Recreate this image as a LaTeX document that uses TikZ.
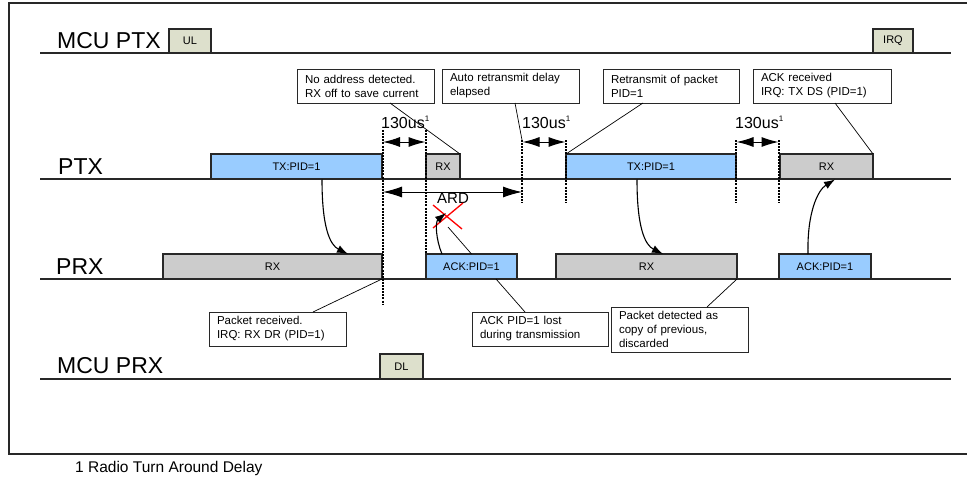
\documentclass[tikz,border=0pt]{standalone}
\usepackage{fontspec}
\setmainfont{Liberation Sans}
\usetikzlibrary{arrows.meta}
\definecolor{pblue}{RGB}{153,204,255}
\definecolor{pgray}{RGB}{204,204,204}
\definecolor{polive}{RGB}{221,224,204}
\definecolor{edgec}{RGB}{40,40,40}
\begin{document}
\begin{tikzpicture}[x=1pt,y=-1pt,
  lane/.style={line width=1.2pt, draw=edgec},
  lanelbl/.style={anchor=base west, inner sep=0, font=\fontsize{23}{23}\selectfont},
  pk/.style={draw=edgec, line width=1.3pt, inner sep=0, outer sep=0, font=\fontsize{11}{13}\selectfont},
  txb/.style={pk, fill=pblue},
  rxb/.style={pk, fill=pgray},
  mcub/.style={pk, fill=polive},
  note/.style={draw=edgec, line width=0.9pt, fill=white, inner xsep=8pt, inner ysep=0, outer sep=0, align=left, font=\fontsize{11.5}{14}\selectfont, anchor=north west},
  lead/.style={line width=0.7pt},
  tick/.style={line width=2pt, dash pattern=on 2pt off 1.1pt},
  dur/.style={line width=1pt, {Latex[length=17pt,width=10pt]}-{Latex[length=17pt,width=10pt]}},
  ardarr/.style={line width=1pt, {Latex[length=19pt,width=11pt]}-{Latex[length=19pt,width=11pt]}},
  flow/.style={line width=1.1pt, -{Latex[length=11pt,width=8pt]}},
  lbl/.style={inner sep=0, anchor=base west, font=\fontsize{16}{16}\selectfont},
]
\useasboundingbox (0,0) rectangle (967,479);
\fill[white] (0,0) rectangle (967,479);
% frame
\draw[line width=1.2pt, edgec] (975,3) -- (9,3) -- (9,454) -- (975,454);

% lanes
\draw[lane] (40,53) -- (951,53);
\draw[lane] (40,179) -- (951,179);
\draw[lane] (40,279) -- (951,279);
\draw[lane] (40,379) -- (951,379);
\node[lanelbl] (lmcuptx) at (57,48) {MCU PTX};
\node[lanelbl] (lptx) at (58,174) {PTX};
\node[lanelbl] (lprx) at (56,274) {PRX};
\node[lanelbl] (lmcuprx) at (57,373) {MCU PRX};

% MCU boxes
\node[mcub, minimum width=42pt, minimum height=24pt] (ul) at (190,41) {UL};
\node[mcub, minimum width=40pt, minimum height=24pt] (irq) at (893,41) {IRQ};
\node[mcub, minimum width=43pt, minimum height=25pt] (dl) at (401.5,366.5) {DL};

% PTX boxes
\node[txb, minimum width=171pt, minimum height=25pt] (tx1) at (296.5,166.5) {TX:PID=1};
\node[rxb, minimum width=34pt, minimum height=25pt] (rx1) at (443,166.5) {RX};
\node[txb, minimum width=170pt, minimum height=25pt] (tx2) at (651,166.5) {TX:PID=1};
\node[rxb, minimum width=93pt, minimum height=25pt] (rx3) at (826.5,166.5) {RX};

% PRX boxes
\node[rxb, minimum width=219pt, minimum height=25pt] (prx1) at (272.5,266.5) {RX};
\node[txb, minimum width=91pt, minimum height=25pt] (ack1) at (471.5,266.5) {ACK:PID=1};
\node[rxb, minimum width=181pt, minimum height=25pt] (prx2) at (646.5,266.5) {RX};
\node[txb, minimum width=92pt, minimum height=25pt] (ack2) at (825,266.5) {ACK:PID=1};

% dotted markers
\coordinate (d1t) at (382.5,130); \coordinate (d1b) at (382.5,305);
\coordinate (d2t) at (426,130);   \coordinate (d2b) at (426,254);
\coordinate (d3t) at (522,140);   \coordinate (d3b) at (522,203);
\coordinate (d4t) at (566,140);   \coordinate (d4b) at (566,203);
\coordinate (d5t) at (736,140);   \coordinate (d5b) at (736,203);
\coordinate (d6t) at (779,140);   \coordinate (d6b) at (779,203);
\foreach \i in {1,...,6} {\draw[tick] (d\i t) -- (d\i b);}

% 130us durations
\coordinate (a1l) at (383,142); \coordinate (a1r) at (425.5,142);
\coordinate (a2l) at (522.5,142); \coordinate (a2r) at (565.5,142);
\coordinate (a3l) at (736.5,142); \coordinate (a3r) at (778.5,142);
\draw[dur] (a1l) -- (a1r);
\draw[dur] (a2l) -- (a2r);
\draw[dur] (a3l) -- (a3r);
\node[lbl] (t1) at (381,128) {130us\raisebox{7pt}{\fontsize{8}{8}\selectfont 1}};
\node[lbl] (t2) at (522,128) {130us\raisebox{7pt}{\fontsize{8}{8}\selectfont 1}};
\node[lbl] (t3) at (735,128) {130us\raisebox{7pt}{\fontsize{8}{8}\selectfont 1}};

% ARD
\coordinate (ardl) at (383,192); \coordinate (ardr) at (522,192);
\draw[ardarr] (ardl) -- (ardr);
\node[inner sep=0, font=\fontsize{15}{15}\selectfont] (ard) at (453,198) {ARD};

% red cross
\draw[red, line width=1.3pt] (433,205) -- (462,229) (433,228) -- (463,203);
\coordinate (xmark) at (448,227);
\draw[lead] (xmark) -- (ack1.north);

% flow arrows
\coordinate (f1s) at (322,179.5); \coordinate (f1e) at (348,254);
\draw[flow] (f1s) .. controls (322,228) and (330,245) .. (f1e);
\coordinate (f2s) at (442,254); \coordinate (f2e) at (446,213);
\draw[flow] (f2s) .. controls (436,240) and (435,222) .. (f2e);
\coordinate (f3s) at (637,179.5); \coordinate (f3e) at (663,254);
\draw[flow] (f3s) .. controls (637,228) and (645,245) .. (f3e);
\coordinate (f4s) at (808,254); \coordinate (f4e) at (835,179.5);
\draw[flow] (f4s) .. controls (807,212) and (818,190) .. (f4e);

% notes
\node[note, text width=121pt, minimum height=34pt] (noaddr) at (297,69) {No address detected.\\RX off to save current};
\node[note, text width=121pt, minimum height=34pt] (auto) at (442,69) {Auto retransmit delay\\elapsed};
\node[note, text width=120pt, minimum height=34pt] (retx) at (603,69) {Retransmit of packet\\PID=1};
\node[note, text width=122pt, minimum height=34pt] (ackrx) at (753,69) {ACK received\\IRQ: TX DS (PID=1)};
\node[note, text width=121pt, minimum height=34pt] (pktrx) at (209,312) {Packet received.\\IRQ: RX DR (PID=1)};
\node[note, text width=120pt, minimum height=34pt] (acklost) at (472,312) {ACK PID=1 lost\\during transmission};
\node[note, text width=121pt, minimum height=45pt] (pktdet) at (611,307) {Packet detected as\\copy of previous,\\discarded};

% leads
\draw[lead] ([xshift=93pt]noaddr.south west) -- (rx1.north east);
\draw[lead] ([xshift=73pt]auto.south west) -- (d3t);
\draw[lead] ([xshift=40pt]retx.south west) -- (tx2.north west);
\draw[lead] ([xshift=82pt]ackrx.south west) -- (rx3.north east);
\draw[lead] ([xshift=104pt]pktrx.north west) -- (prx1.south east);
\draw[lead] ([xshift=53pt]acklost.north west) -- ([xshift=24.5pt]ack1.south);
\draw[lead] ([xshift=96pt]pktdet.north west) -- (prx2.south east);

% footnote
\node[inner sep=0, anchor=base west, font=\fontsize{15.5}{16}\selectfont] (foot) at (75,472) {1 Radio Turn Around Delay};
\end{tikzpicture}
\end{document}
